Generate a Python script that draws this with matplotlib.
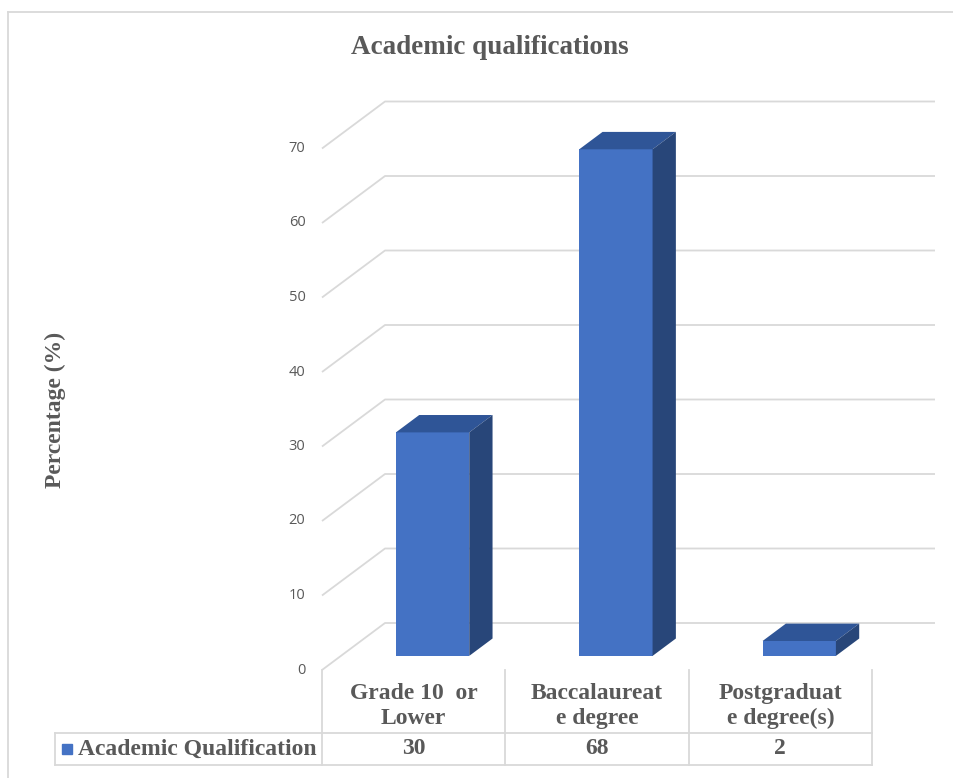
import matplotlib.pyplot as plt
from matplotlib.patches import Polygon
from matplotlib.lines import Line2D

categories = ["Grade 10  or\nLower", "Baccalaureat\ne degree", "Postgraduat\ne degree(s)"]
values = [30, 68, 2]
series_name = "Academic Qualification"
yticks = [0, 10, 20, 30, 40, 50, 60, 70]

W, H = 954, 778
fig = plt.figure(figsize=(W / 100, H / 100), dpi=100)

# plot area in pixels (front plane): x 322..872 for 3 categories, y=0 at 670, 10 units = 74.5 px
px_cat = 550 / 3
px_unit = 7.45
left_px, right_px, top_px, bot_px = 322, 935, 102, 670
ax = fig.add_axes([left_px / W, 1 - bot_px / H, (right_px - left_px) / W, (bot_px - top_px) / H])
ax.set_xlim(-0.5, -0.5 + (right_px - left_px) / px_cat)
ax.set_ylim(0, (bot_px - top_px) / px_unit)
ax.axis('off')

DX = 63 / px_cat   # depth offset of the back wall
DY = 47 / px_unit
grid_c = '#D9D9D9'
xmax = ax.get_xlim()[1]
for v in yticks:
    ax.plot([-0.5, -0.5 + DX, xmax], [v, v + DY, v + DY], color=grid_c, lw=1.3,
            solid_capstyle='butt', clip_on=False)
    ax.text(-0.5 - 0.09, v, str(v), ha='right', va='center', fontsize=10.5,
            color='#595959', family='Open Sans')

# bars: front face sits at 30% of depth, bar depth 37%
f0, fd = 0.30, 0.37
bw = 0.4
front_c, top_c, side_c = '#4472C4', '#2F5597', '#284679'
xs = [i + f0 * DX for i in range(len(values))]
ax.bar(xs, values, width=bw, bottom=f0 * DY, color=front_c, zorder=3)
for x, v in zip(xs, values):
    x0, x1 = x - bw / 2, x + bw / 2
    y0, y1 = f0 * DY, v + f0 * DY
    ddx, ddy = fd * DX, fd * DY
    ax.add_patch(Polygon([(x0, y1), (x1, y1), (x1 + ddx, y1 + ddy), (x0 + ddx, y1 + ddy)],
                         closed=True, color=top_c, zorder=3, lw=0))
    ax.add_patch(Polygon([(x1, y0), (x1 + ddx, y0 + ddy), (x1 + ddx, y1 + ddy), (x1, y1)],
                         closed=True, color=side_c, zorder=3, lw=0))

# title and axis label
serif = 'Liberation Serif'
fig.text(490 / W, 1 - 47 / H, "Academic qualifications", ha='center', va='center',
         fontsize=19.5, fontweight='bold', color='#595959', family=serif)
fig.text(55 / W, 1 - 410 / H, "Percentage (%)", ha='center', va='center', rotation=90,
         fontsize=17, fontweight='bold', color='#595959', family=serif)

# data table below the plot
def fl(x0, y0, x1, y1):
    fig.add_artist(Line2D([x0 / W, x1 / W], [1 - y0 / H, 1 - y1 / H], color=grid_c, lw=1.3,
                          transform=fig.transFigure))

col_edges = [left_px + i * px_cat for i in range(len(categories) + 1)]
row_mid, row_bot = 733, 765
for xe in col_edges:
    fl(xe, bot_px, xe, row_bot)
fl(55, row_mid, col_edges[-1], row_mid)
fl(55, row_bot, col_edges[-1], row_bot)
fl(55, row_mid, 55, row_bot)
for i, (c, v) in enumerate(zip(categories, values)):
    cx = (col_edges[i] + col_edges[i + 1]) / 2
    fig.text(cx / W, 1 - 706 / H, c, ha='center', va='center', fontsize=17,
             fontweight='bold', color='#595959', family=serif, linespacing=1.25)
    fig.text(cx / W, 1 - 749 / H, str(v), ha='center', va='center', fontsize=17,
             fontweight='bold', color='#595959', family=serif)
fig.add_artist(plt.Rectangle((62 / W, 1 - 754 / H), 10 / W, 10 / H, color=front_c,
                             transform=fig.transFigure))
fig.text(78 / W, 1 - 749 / H, series_name, ha='left', va='center', fontsize=17,
         fontweight='bold', color='#595959', family=serif)

# outer chart border
fl(8, 12, W, 12)
fl(8, 12, 8, H)

fig.savefig('out.png', dpi=100)
